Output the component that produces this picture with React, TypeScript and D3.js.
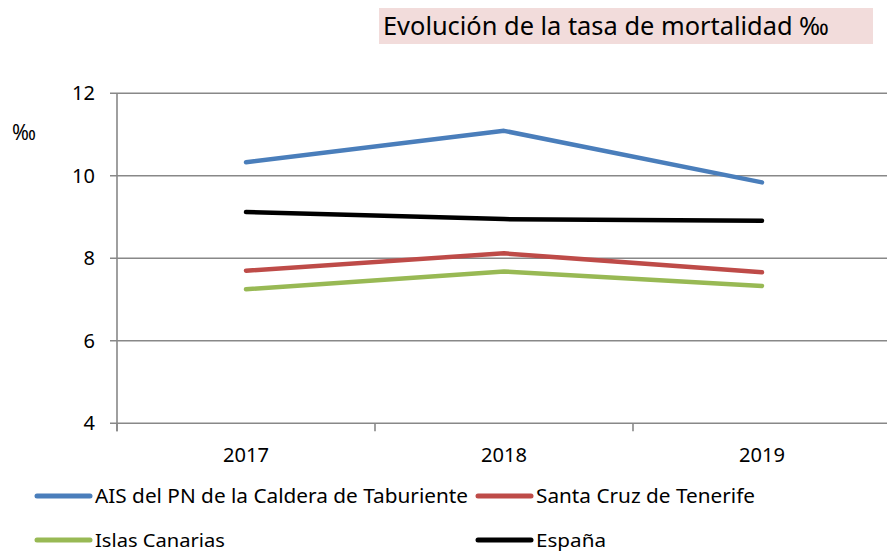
import React from "react";
import * as d3 from "d3";

const categories = ["2017", "2018", "2019"];
const seriesNames = [
  "AIS del PN de la Caldera de Taburiente",
  "Santa Cruz de Tenerife",
  "Islas Canarias",
  "España",
];
const aisValues = [10.33, 11.09, 9.84];
const santaCruzValues = [7.7, 8.12, 7.66];
const canariasValues = [7.25, 7.68, 7.33];
const espanaValues = [9.12, 8.95, 8.91];
const yTicks = [4, 6, 8, 10, 12];
const colors = ["#4a7ebb", "#be4b48", "#98b954", "#000000"];

const W = 887;
const H = 552;
const left = 117;
const right = 891;
const top = 93.3;
const bottom = 423.3;
const font = "'Noto Sans', 'Open Sans', sans-serif";

export default function App() {
  const x = d3.scaleBand<string>().domain(categories).range([left, right]);
  const y = d3.scaleLinear().domain([4, 12]).range([bottom, top]);
  const allSeries = [aisValues, santaCruzValues, canariasValues, espanaValues];
  const line = d3
    .line<number>()
    .x((_, i) => (x(categories[i]) as number) + x.bandwidth() / 2)
    .y((d) => y(d));
  const bandTicks = [...categories.map((c) => x(c) as number), right];

  const legendItems = [
    { name: seriesNames[0], color: colors[0], lx: 37, tx: 95, ty: 497, tl: 373, fs: 19 },
    { name: seriesNames[1], color: colors[1], lx: 478, tx: 536, ty: 497, tl: 219, fs: 19 },
    { name: seriesNames[2], color: colors[2], lx: 37, tx: 95, ty: 541, tl: 130, fs: 18 },
    { name: seriesNames[3], color: colors[3], lx: 478, tx: 536, ty: 541, tl: 70, fs: 18 },
  ];

  return (
    <svg
      width={W}
      height={H}
      style={{ position: "absolute", left: 0, top: 0, background: "#fff" }}
    >
      <rect x={379} y={8} width={494} height={36} fill="#f2dcdb" />
      <text
        x={383}
        y={35}
        fontFamily={font}
        fontSize={25}
        fill="#000"
        textLength={446}
        lengthAdjust="spacingAndGlyphs"
      >
        Evolución de la tasa de mortalidad ‰
      </text>

      {yTicks.map((t) => (
        <g key={t}>
          <line
            x1={110}
            x2={W}
            y1={y(t)}
            y2={y(t)}
            stroke="#888"
            strokeWidth={1.6}
          />
          <text
            x={95}
            y={y(t) + 7}
            textAnchor="end"
            fontFamily={font}
            fontSize={20}
            fill="#000"
          >
            {t}
          </text>
        </g>
      ))}
      <line x1={left} x2={left} y1={top} y2={bottom + 8} stroke="#888" strokeWidth={1.6} />
      {bandTicks.map((bx, i) => (
        <line key={i} x1={bx} x2={bx} y1={bottom} y2={bottom + 8} stroke="#888" strokeWidth={1.6} />
      ))}
      {categories.map((c) => (
        <text
          key={c}
          x={(x(c) as number) + x.bandwidth() / 2}
          y={462}
          textAnchor="middle"
          fontFamily={font}
          fontSize={19}
          fill="#000"
          textLength={46}
          lengthAdjust="spacingAndGlyphs"
        >
          {c}
        </text>
      ))}
      <text
        x={12}
        y={140}
        fontFamily={font}
        fontSize={21}
        fill="#000"
        textLength={24}
        lengthAdjust="spacingAndGlyphs"
      >
        ‰
      </text>

      {allSeries.map((s, i) => (
        <path
          key={i}
          d={line(s) as string}
          fill="none"
          stroke={colors[i]}
          strokeWidth={4.5}
          strokeLinecap="round"
          strokeLinejoin="round"
        />
      ))}

      {legendItems.map((it) => (
        <g key={it.name}>
          <line
            x1={it.lx}
            x2={it.lx + 53}
            y1={it.ty - 1}
            y2={it.ty - 1}
            stroke={it.color}
            strokeWidth={5}
            strokeLinecap="round"
          />
          <text
            x={it.tx}
            y={it.ty + 6}
            fontFamily={font}
            fontSize={it.fs}
            fill="#000"
            textLength={it.tl}
            lengthAdjust="spacingAndGlyphs"
          >
            {it.name}
          </text>
        </g>
      ))}
    </svg>
  );
}
